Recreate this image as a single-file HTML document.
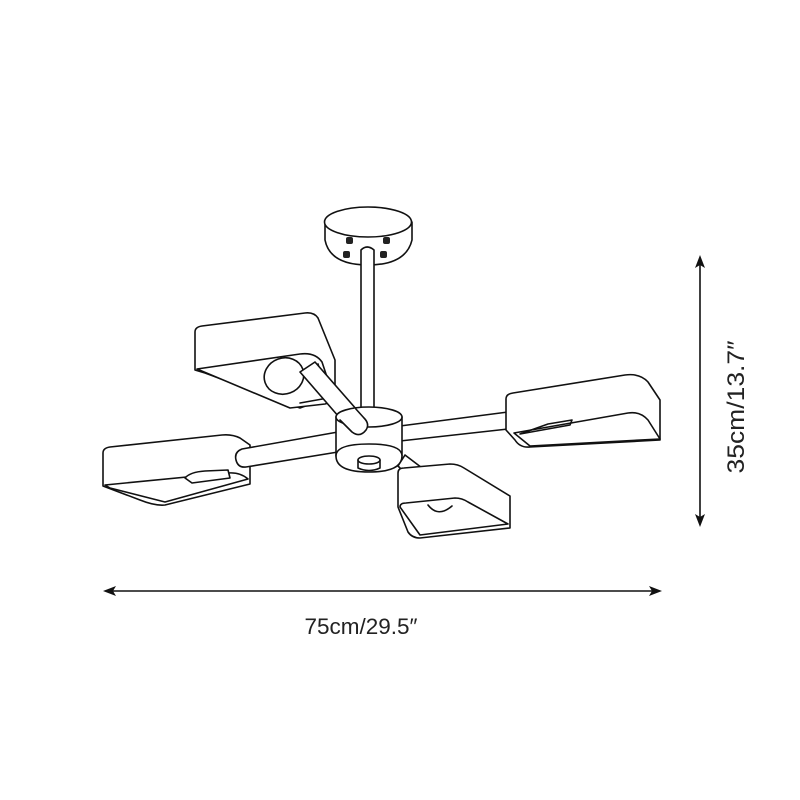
<!DOCTYPE html>
<html><head><meta charset="utf-8"><style>html,body{margin:0;padding:0;background:#fff}svg{display:block}</style></head>
<body>
<svg width="800" height="800" viewBox="0 0 800 800" xmlns="http://www.w3.org/2000/svg">
<g fill="#fff" stroke="#111" stroke-width="1.6" stroke-linejoin="round" stroke-linecap="round">
<!-- canopy -->
<path d="M325 222 L325 240 Q330 265 368 265 Q406 265 412 240 L412 222"/>
<ellipse cx="368" cy="222" rx="43.5" ry="15"/>
<g fill="#222" stroke="none">
<rect x="346" y="237" width="7" height="7" rx="2"/><rect x="383" y="237" width="7" height="7" rx="2"/>
<rect x="343" y="251" width="7" height="7" rx="2"/><rect x="380" y="251" width="7" height="7" rx="2"/>
</g>
<!-- rod -->
<path d="M361 412 L361 250 Q367 244 374 250 L374 412"/>
<!-- upper-left shade -->
<path d="M195 332 Q195 327 202 326 L305 313 Q314 312 318 318 L335 360 L335 395 L300 408 L205 373 L195 370 Z"/>
<path d="M197 369 L300 354 Q315 352 322 362 L333 395 Q333 402 325 404 L290 408 Z"/>
<ellipse cx="284" cy="376" rx="20" ry="18" transform="rotate(-20 284 376)"/>
<path d="M318 364 L328 398 L300 403" fill="none"/>
<!-- upper-left diagonal arm -->
<path d="M300 372 L352 432 Q360 438 366 430 Q370 424 364 418 L315 362 Z"/>
<!-- left shade -->
<path d="M103 453 Q103 448 110 447 L222 435 Q232 434 240 438 L250 445 L250 484 L165 505 Q155 506 140 500 L103 486 Z"/>
<path d="M105 485 L228 473 Q240 472 248 479 L165 502 L110 488 Z"/>
<path d="M185 478 Q190 472 205 471 L228 470 L230 478 L192 483 Z"/>
<!-- left arm -->
<path d="M338 432 L242 449 Q234 452 236 460 Q238 468 246 467 L338 452 Z"/>
<!-- right arm -->
<path d="M400 426 L508 412 L508 429 L400 441 Z"/>
<!-- right shade -->
<path d="M506 399 Q506 394 513 393 L625 375 Q640 373 648 382 L660 400 L660 440 L530 447 Q520 448 515 440 L506 430 Z"/>
<path d="M514 433 L628 413 Q640 411 648 420 L660 439 L530 446 Z"/>
<path d="M520 434 L570 425 L572 420 L548 424 Z" fill="none"/>
<!-- hub -->
<path d="M336 417 L336 456 L402 456 L402 417"/>
<ellipse cx="369" cy="417" rx="33" ry="10"/>
<path d="M336 456 Q336 472 369 472 Q402 472 402 456 Q402 444 369 444 Q336 444 336 456 Z"/>
<path d="M358 460 L358 468 Q369 473 380 468 L380 460"/>
<ellipse cx="369" cy="460" rx="11" ry="4"/>
<path d="M340 420 L352 432 Q360 438 366 430 Q370 424 364 418 L355 408" fill="#fff"/>
<!-- lower-right arm -->
<path d="M398 466 L420 488 Q428 494 433 486 Q436 480 430 474 L405 455 Z"/>
<!-- bottom shade -->
<path d="M398 473 Q398 468 404 468 L450 464 Q458 464 464 468 L510 496 L510 528 L420 538 Q412 538 408 532 L398 507 Z"/>
<path d="M400 507 Q400 503 406 503 L455 498 Q462 498 468 502 L508 524 L420 535 Z"/>
<path d="M428 505 Q438 518 452 506" fill="none"/>
</g>
<!-- dimension lines -->
<g stroke="#111" stroke-width="1.6">
<line x1="700" y1="262" x2="700" y2="520"/>
<line x1="110" y1="591" x2="655" y2="591"/>
</g>
<g fill="#111">
<path d="M700 255 L695 268 L700 265 L705 268 Z"/>
<path d="M700 527 L695 514 L700 517 L705 514 Z"/>
<path d="M103 591 L116 586 L113 591 L116 596 Z"/>
<path d="M662 591 L649 586 L652 591 L649 596 Z"/>
</g>
<text x="361" y="634" font-family="Liberation Sans, Arial, sans-serif" font-size="22" fill="#222" text-anchor="middle" textLength="113" lengthAdjust="spacingAndGlyphs">75cm/29.5″</text>
<text transform="translate(744 407) rotate(-90)" font-family="Liberation Sans, Arial, sans-serif" font-size="24" fill="#222" text-anchor="middle" textLength="133" lengthAdjust="spacingAndGlyphs">35cm/13.7″</text>
</svg>
</body></html>
